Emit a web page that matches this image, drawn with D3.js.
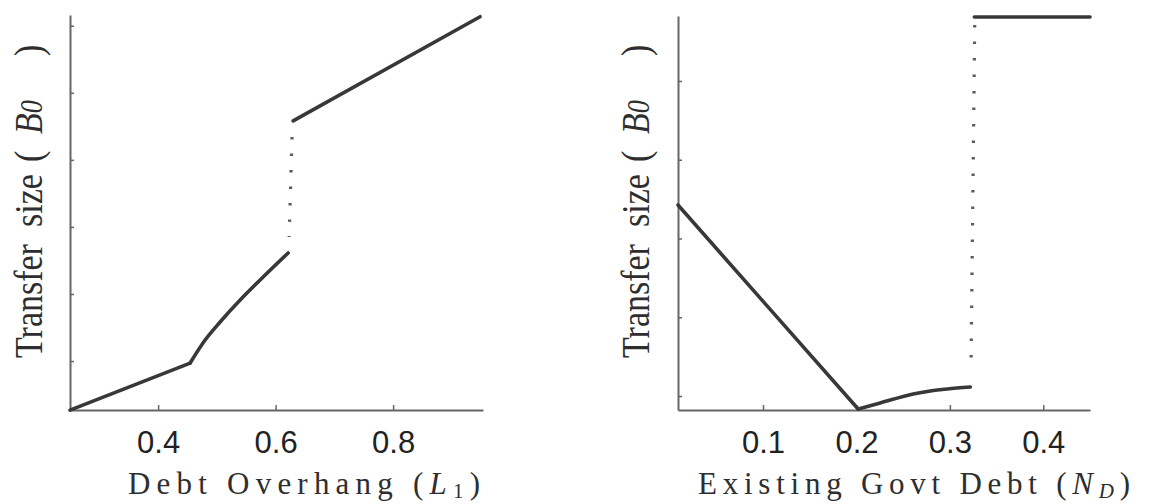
<!DOCTYPE html>
<html>
<head>
<meta charset="utf-8">
<script src="https://cdn.jsdelivr.net/npm/d3@7"></script>
<style>
  html, body { margin: 0; padding: 0; background: #fff; }
  svg { display: block; }
</style>
</head>
<body>
<svg id="chart" width="1150" height="504"></svg>
<script>
// Panel 1: transfer size against debt overhang L1
const leftXTicks = [0.4, 0.6, 0.8];
const leftYTicks = [1, 2, 3, 4, 5, 6];
const leftBaseX  = [0.25, 0.4545];
const leftBaseY  = [0.269, 0.970];
const leftCurveX = [0.4545, 0.480, 0.5055, 0.5396, 0.5736, 0.6213];
const leftCurveY = [0.970, 1.313, 1.582, 1.910, 2.209, 2.612];
const leftHighX  = [0.6298, 0.948];
const leftHighY  = [4.582, 6.134];
const leftJumpX  = [0.628, 0.623];
const leftJumpY  = [4.34, 2.85];

// Panel 2: transfer size against existing government debt N_D
const rightXTicks = [0.1, 0.2, 0.3, 0.4];
const rightYTicks = [1, 2, 3, 4, 5];
const rightBaseX  = [0.009, 0.2018];
const rightBaseY  = [3.425, 0.835];
const rightCurveX = [0.2018, 0.2254, 0.2608, 0.279, 0.2972, 0.3219];
const rightCurveY = [0.835, 0.911, 1.025, 1.063, 1.089, 1.114];
const rightHighX  = [0.3262, 0.45];
const rightHighY  = [5.813, 5.813];
const rightJumpX  = [0.3266, 0.3226];
const rightJumpY  = [5.71, 1.33];

const SERIF = "Liberation Serif, serif";
const SANS = "Liberation Sans, sans-serif";

const svg = d3.select("#chart");
const zip = (xs, ys) => xs.map((x, i) => [x, ys[i]]);

function panel(cfg) {
  const x = d3.scaleLinear().domain(cfg.xDomain).range(cfg.xRange);
  const y = d3.scaleLinear().domain(cfg.yDomain).range(cfg.yRange);
  const g = svg.append("g");

  const xAxis = g.append("g")
    .attr("transform", `translate(0,${cfg.yRange[0]})`)
    .call(d3.axisBottom(x).tickValues(cfg.xTicks).tickSizeInner(-5).tickSizeOuter(0)
      .tickPadding(21).tickFormat(d3.format(".1f")));
  const yAxis = g.append("g")
    .attr("transform", `translate(${cfg.xRange[0]},0)`)
    .call(d3.axisLeft(y).tickValues(cfg.yTicks).tickSizeInner(-4).tickSizeOuter(0)
      .tickFormat(""));
  [xAxis, yAxis].forEach(a => {
    a.select(".domain").attr("stroke", "#666").attr("stroke-width", 2);
    a.selectAll(".tick line").attr("stroke", "#666").attr("stroke-width", 1.5);
  });
  xAxis.selectAll(".tick text")
    .attr("font-family", SANS).attr("font-size", 31).attr("fill", "#222");

  const straight = d3.line().x(d => x(d[0])).y(d => y(d[1]));
  const smooth = d3.line().x(d => x(d[0])).y(d => y(d[1])).curve(d3.curveMonotoneX);

  const draw = (data, gen) => g.append("path").datum(data)
    .attr("d", gen).attr("fill", "none")
    .attr("stroke", "#383838").attr("stroke-width", 3.6)
    .attr("stroke-linejoin", "round").attr("stroke-linecap", "round");

  draw(cfg.base, straight);
  draw(cfg.curve, smooth);
  draw(cfg.high, straight);

  g.append("path").datum(cfg.jump)
    .attr("d", straight).attr("fill", "none")
    .attr("stroke", "#5c5c5c").attr("stroke-width", 3.2)
    .attr("stroke-dasharray", "2.4,14.1");
  return g;
}

panel({
  xDomain: [0.25, 0.953], xRange: [70, 483],
  yDomain: [0.27, 6.16], yRange: [410, 15],
  xTicks: leftXTicks, yTicks: leftYTicks,
  base: zip(leftBaseX, leftBaseY),
  curve: zip(leftCurveX, leftCurveY),
  high: zip(leftHighX, leftHighY),
  jump: zip(leftJumpX, leftJumpY)
});

panel({
  xDomain: [0.009, 0.45], xRange: [678, 1090],
  yDomain: [0.822, 5.825], yRange: [410, 16],
  xTicks: rightXTicks, yTicks: rightYTicks,
  base: zip(rightBaseX, rightBaseY),
  curve: zip(rightCurveX, rightCurveY),
  high: zip(rightHighX, rightHighY),
  jump: zip(rightJumpX, rightJumpY)
});

// Vertical axis titles
function yTitle(px) {
  const t = svg.append("text")
    .attr("font-family", SERIF).attr("fill", "#2e2e2e").attr("font-size", 34)
    .attr("transform", `translate(${px},358) rotate(-90) scale(1,1.2)`);
  t.append("tspan").attr("x", 0).text("Transfer");
  t.append("tspan").attr("x", 131).text("size");
  t.append("tspan").attr("x", 196).text("(");
  t.append("tspan").attr("x", 224).attr("font-style", "italic").text("B");
  t.append("tspan").attr("font-style", "italic").attr("font-size", 26).text("0");
  t.append("tspan").attr("x", 302).text(")");
}
yTitle(42);
yTitle(649);

// Horizontal axis titles
function xTitle(px, len, main, sym, sub, subItalic, drop) {
  const t = svg.append("text")
    .attr("font-family", SERIF).attr("fill", "#2e2e2e").attr("font-size", 31)
    .attr("x", px).attr("y", 494)
    .attr("textLength", len).attr("lengthAdjust", "spacing");
  t.append("tspan").text(main + " (");
  t.append("tspan").attr("font-style", "italic").text(sym);
  t.append("tspan").attr("dy", drop).attr("font-size", 21)
    .attr("font-style", subItalic ? "italic" : "normal").text(sub);
  t.append("tspan").attr("dy", -drop).text(")");
}
xTitle(128, 352, "Debt Overhang", "L", "1", false, 4);
xTitle(698, 432, "Existing Govt Debt", "N", "D", true, 4);
</script>
</body>
</html>
